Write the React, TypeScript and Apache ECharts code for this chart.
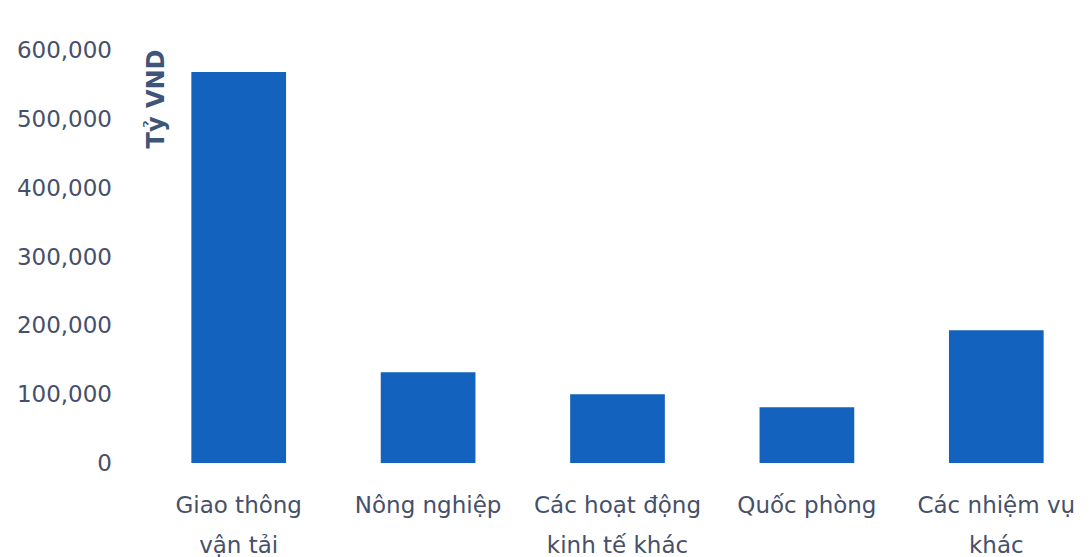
import React, { useEffect, useRef } from "react";
import * as echarts from "echarts";

const categories = [
  "Giao thông\nvận tải",
  "Nông nghiệp",
  "Các hoạt động\nkinh tế khác",
  "Quốc phòng",
  "Các nhiệm vụ\nkhác",
];
const values = [568000, 132000, 100000, 81000, 193000];
const axisTitle = "Tỷ VND";

export default function App() {
  const ref = useRef<HTMLDivElement>(null);
  useEffect(() => {
    document.body.style.margin = "0";
    const chart = echarts.init(ref.current!, null, { renderer: "svg" });
    chart.setOption({
      animation: false,
      backgroundColor: "#ffffff",
      grid: { left: 144, right: 0, top: 50, bottom: 94, outerBoundsMode: "none", containLabel: false },
      xAxis: {
        type: "category",
        data: categories,
        axisLine: { show: false },
        axisTick: { show: false },
        axisLabel: {
          interval: 0,
          margin: 22,
          fontFamily: "DejaVu Sans",
          fontSize: 23,
          lineHeight: 40,
          color: "#46506A",
        },
      },
      yAxis: {
        type: "value",
        min: 0,
        max: 600000,
        interval: 100000,
        splitLine: { show: false },
        axisLine: { show: false },
        axisTick: { show: false },
        axisLabel: {
          margin: 32,
          fontFamily: "DejaVu Sans",
          fontSize: 23,
          color: "#46506A",
          formatter: (v: number) => v.toLocaleString("en-US"),
        },
      },
      graphic: [
        {
          type: "text",
          x: 156,
          y: 99,
          rotation: Math.PI / 2,
          style: {
            text: axisTitle,
            fontFamily: "DejaVu Sans",
            fontWeight: "bold",
            fontSize: 24,
            fill: "#3E5478",
            align: "center",
            verticalAlign: "middle",
          },
        },
      ],
      series: [
        {
          type: "bar",
          data: values,
          barWidth: "50%",
          itemStyle: { color: "#1262BE" },
        },
      ],
    });
    return () => chart.dispose();
  }, []);
  return (
    <div
      ref={ref}
      style={{ position: "absolute", left: 0, top: 0, width: 1091, height: 557 }}
    />
  );
}
